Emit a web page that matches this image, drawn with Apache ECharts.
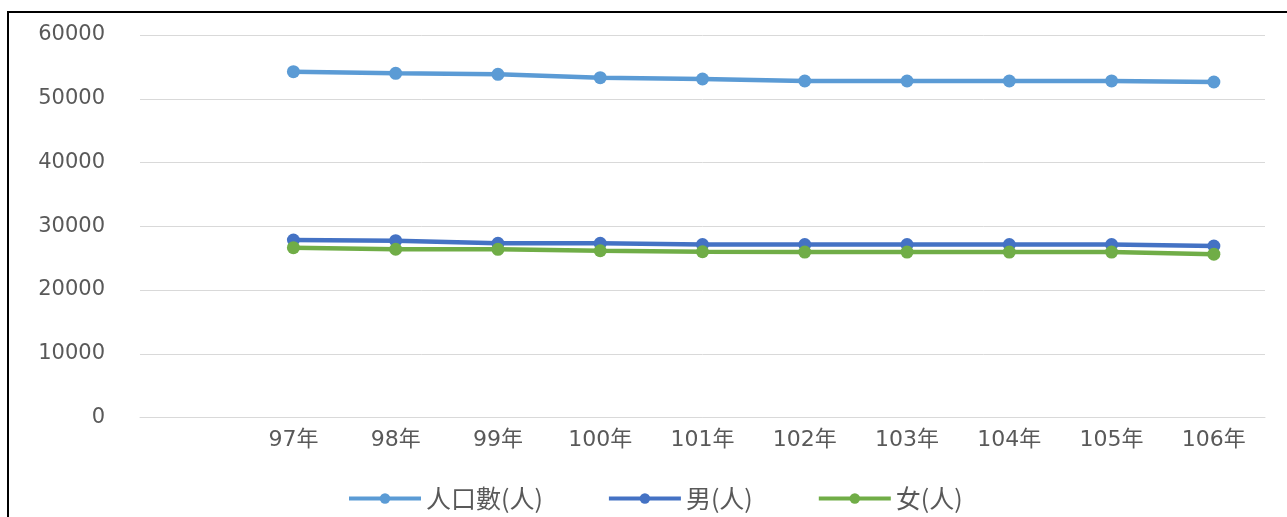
<!DOCTYPE html>
<html>
<head>
<meta charset="utf-8">
<script src="https://cdn.jsdelivr.net/npm/echarts@6/dist/echarts.min.js"></script>
<style>
  html, body { margin: 0; padding: 0; background: #fff; }
  #chart { width: 1287px; height: 517px; }
  .frame {
    position: absolute; left: 7px; top: 11px; right: 0; bottom: 0;
    border-left: 2px solid #000; border-top: 2px solid #000;
    pointer-events: none;
  }
</style>
</head>
<body>
<div id="chart"></div>
<div class="frame"></div>
<script>
// 年份 (第一格留空)
const categories = ['', '97年', '98年', '99年', '100年', '101年', '102年', '103年', '104年', '105年', '106年']
const population = [null, 54240, 53990, 53830, 53300, 53100, 52780, 52780, 52780, 52800, 52630]
const male = [null, 27840, 27740, 27330, 27320, 27120, 27120, 27120, 27120, 27120, 26900]
const female = [null, 26640, 26390, 26380, 26160, 26000, 25950, 25950, 25950, 25950, 25620]
const seriesNames = ['人口數(人)', '男(人)', '女(人)']

const chart = echarts.init(document.getElementById('chart'))
const colors = ['#5B9BD5', '#4472C4', '#70AD47']
const textColor = '#595959'

const makeLine = (name, data) => {
  return {
    name: name,
    type: 'line',
    data: data,
    symbol: 'circle',
    symbolSize: 13,
    lineStyle: { width: 4.5 },
    emphasis: { disabled: true }
  }
}

const option = {
  color: colors,
  animation: false,
  grid: {
    left: 140,
    right: 22,
    top: 35,
    bottom: 99.5
  },
  legend: {
    left: 342,
    top: 481,
    itemWidth: 72,
    itemHeight: 13,
    itemGap: 64,
    lineStyle: { width: 4 },
    textStyle: {
      color: textColor,
      fontSize: 25,
      fontFamily: '"Noto Sans CJK TC", sans-serif'
    },
    data: seriesNames
  },
  xAxis: {
    type: 'category',
    data: categories,
    axisLine: { lineStyle: { color: '#d9d9d9' } },
    axisTick: { show: false },
    axisLabel: {
      color: textColor,
      fontSize: 22,
      margin: 12,
      fontFamily: '"DejaVu Sans", "Noto Sans CJK TC", sans-serif'
    }
  },
  yAxis: {
    type: 'value',
    min: 0,
    max: 60000,
    interval: 10000,
    axisLine: { show: false },
    axisTick: { show: false },
    splitLine: { lineStyle: { color: '#d9d9d9' } },
    axisLabel: {
      color: textColor,
      fontSize: 21,
      margin: 35,
      fontFamily: '"DejaVu Sans", sans-serif',
      formatter: (v) => String(v)
    }
  },
  series: [
    makeLine(seriesNames[0], population),
    makeLine(seriesNames[1], male),
    makeLine(seriesNames[2], female)
  ]
}
chart.setOption(option)
</script>
</body>
</html>
